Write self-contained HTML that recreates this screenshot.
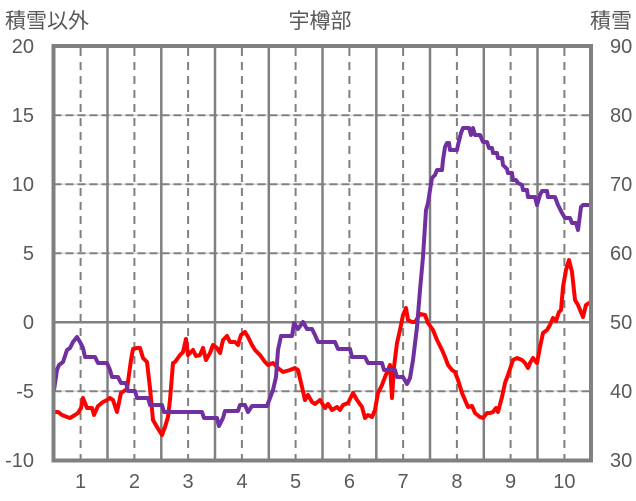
<!DOCTYPE html>
<html>
<head>
<meta charset="utf-8">
<style>
html,body{margin:0;padding:0;background:#fff;}
svg{display:block;}
text{font-family:"Liberation Sans","Noto Sans CJK JP",sans-serif;fill:#595959;}
</style>
</head>
<body>
<svg width="636" height="501" viewBox="0 0 636 501" xmlns="http://www.w3.org/2000/svg">
<rect width="636" height="501" fill="#fff"/>
<!-- light gray under horizontal dashed -->
<g stroke="#d9d9d9" stroke-width="1.5">
<line x1="53.5" y1="115.3" x2="591" y2="115.3"/>
<line x1="53.5" y1="184.3" x2="591" y2="184.3"/>
<line x1="53.5" y1="253.3" x2="591" y2="253.3"/>
<line x1="53.5" y1="391.3" x2="591" y2="391.3"/>
</g>
<g stroke="#808080" stroke-width="2" stroke-dasharray="8,4">
<line x1="53.5" y1="115.3" x2="591" y2="115.3"/>
<line x1="53.5" y1="184.3" x2="591" y2="184.3"/>
<line x1="53.5" y1="253.3" x2="591" y2="253.3"/>
<line x1="53.5" y1="391.3" x2="591" y2="391.3"/>
</g>
<g stroke="#808080" stroke-width="2" stroke-dasharray="8,6">
<line x1="80.6" y1="48" x2="80.6" y2="459"/>
<line x1="134.4" y1="48" x2="134.4" y2="459"/>
<line x1="188.1" y1="48" x2="188.1" y2="459"/>
<line x1="241.9" y1="48" x2="241.9" y2="459"/>
<line x1="295.6" y1="48" x2="295.6" y2="459"/>
<line x1="349.4" y1="48" x2="349.4" y2="459"/>
<line x1="403.1" y1="48" x2="403.1" y2="459"/>
<line x1="456.9" y1="48" x2="456.9" y2="459"/>
<line x1="510.6" y1="48" x2="510.6" y2="459"/>
<line x1="564.4" y1="48" x2="564.4" y2="459"/>
</g>
<g stroke="#808080" stroke-width="2.5">
<line x1="107.5" y1="46" x2="107.5" y2="460.5"/>
<line x1="161.3" y1="46" x2="161.3" y2="460.5"/>
<line x1="215" y1="46" x2="215" y2="460.5"/>
<line x1="268.8" y1="46" x2="268.8" y2="460.5"/>
<line x1="322.5" y1="46" x2="322.5" y2="460.5"/>
<line x1="376.3" y1="46" x2="376.3" y2="460.5"/>
<line x1="430" y1="46" x2="430" y2="460.5"/>
<line x1="483.8" y1="46" x2="483.8" y2="460.5"/>
<line x1="537.5" y1="46" x2="537.5" y2="460.5"/>
<line x1="53.5" y1="322.3" x2="591" y2="322.3"/>
</g>
<!-- red series -->
<polyline fill="none" stroke="#ff0000" stroke-width="4" stroke-linejoin="round" stroke-linecap="round" points="54,412 58,412 62,415 67,417 70,418 75,415 78,413 81,408 83,398 85,403 87,408 92,408 94,415 98,406 103,402 107,400 110,398 113,400 117,412 121,393 124,391 127,389 131,360 133,349 137,348 140,348 143,358 147,362 150,388 153,420 157,427 162,435 165,427 168,417 170,400 173,363 175,362 180,355 183,352 186,339 188,355 193,350 196,356 200,355 203,348 206,360 210,353 213,345 217,348 220,353 223,340 227,336 230,342 235,342 238,345 241,335 245,332 248,337 252,345 255,350 260,355 265,362 268,365 273,363 278,368 283,372 290,370 295,368 298,370 302,387 305,400 308,395 312,402 315,404 320,400 325,408 328,404 332,410 337,407 340,410 343,405 348,403 353,393 357,400 362,407 365,418 368,415 372,417 375,410 378,393 382,385 385,377 388,370 390,365 392,398 394,367 397,343 400,330 403,315 406,308 408,320 412,322 415,322 420,314 425,315 428,323 433,330 437,340 442,350 445,357 448,365 452,370 455,372 458,380 462,393 465,400 468,407 472,406 475,413 480,417 483,418 487,413 490,413 493,412 496,408 498,412 502,397 505,383 508,375 513,360 517,358 522,360 525,363 528,368 530,363 533,358 537,363 540,347 543,333 547,330 550,325 553,318 556,321 559,312 561,310 563,287 566,270 569,260 572,272 575,300 578,305 583,317 586,305 589,303"/>
<!-- purple series -->
<polyline fill="none" stroke="#7030a0" stroke-width="4" stroke-linejoin="round" stroke-linecap="round" points="54,390 57,370 59,365 63,362 67,350 70,348 73,342 77,337 80,342 83,348 85,357 95,357 98,363 107,363 110,370 112,377 118,377 121,383 126,383 128,391 135,391 137,398 148,398 150,405 162,405 164,412 202,412 204,418 217,418 219,426 223,418 225,411 238,411 240,405 245,405 248,412 252,406 267,406 270,398 273,390 276,377 278,350 281,336 292,336 294,323 298,329 303,322 307,329 312,329 315,335 318,342 335,342 338,349 350,349 352,357 365,357 368,363 382,363 384,370 395,370 397,377 403,377 407,384 410,378 413,360 417,327 420,290 423,257 426,210 428,203 430,190 432,178 435,175 437,170 442,170 443,160 445,147 447,143 449,143 450,150 457,150 458,145 461,133 463,128 469,128 471,135 473,128 475,135 480,135 483,142 487,142 489,148 492,148 493,153 497,153 498,158 502,158 503,165 507,169 508,173 512,173 513,180 516,180 518,183 522,185 523,190 527,190 528,197 535,197 537,205 540,195 542,191 547,191 548,197 555,197 558,205 562,213 565,218 570,218 572,223 576,223 578,230 581,207 583,205 588,205"/>
<!-- border -->
<rect x="53.5" y="46" width="537.5" height="414.5" fill="none" stroke="#808080" stroke-width="4"/>
<!-- left axis labels -->
<g font-size="20" text-anchor="end">
<text x="34" y="53">20</text>
<text x="34" y="122">15</text>
<text x="34" y="191">10</text>
<text x="34" y="260">5</text>
<text x="34" y="329">0</text>
<text x="34" y="398">-5</text>
<text x="34" y="467">-10</text>
</g>
<!-- right axis labels -->
<g font-size="20" text-anchor="start">
<text x="610" y="53">90</text>
<text x="610" y="122">80</text>
<text x="610" y="191">70</text>
<text x="610" y="260">60</text>
<text x="610" y="329">50</text>
<text x="610" y="398">40</text>
<text x="610" y="467">30</text>
</g>
<!-- bottom labels -->
<g font-size="20" text-anchor="middle">
<text x="80.6" y="488">1</text>
<text x="134.4" y="488">2</text>
<text x="188.1" y="488">3</text>
<text x="241.9" y="488">4</text>
<text x="295.6" y="488">5</text>
<text x="349.4" y="488">6</text>
<text x="403.1" y="488">7</text>
<text x="456.9" y="488">8</text>
<text x="510.6" y="488">9</text>
<text x="564.4" y="488">10</text>
</g>
<!-- titles -->
<text x="5" y="28" font-size="21">積雪以外</text>
<text x="320" y="28" font-size="21" text-anchor="middle">宇樽部</text>
<text x="590" y="28" font-size="21">積雪</text>
</svg>
</body>
</html>
